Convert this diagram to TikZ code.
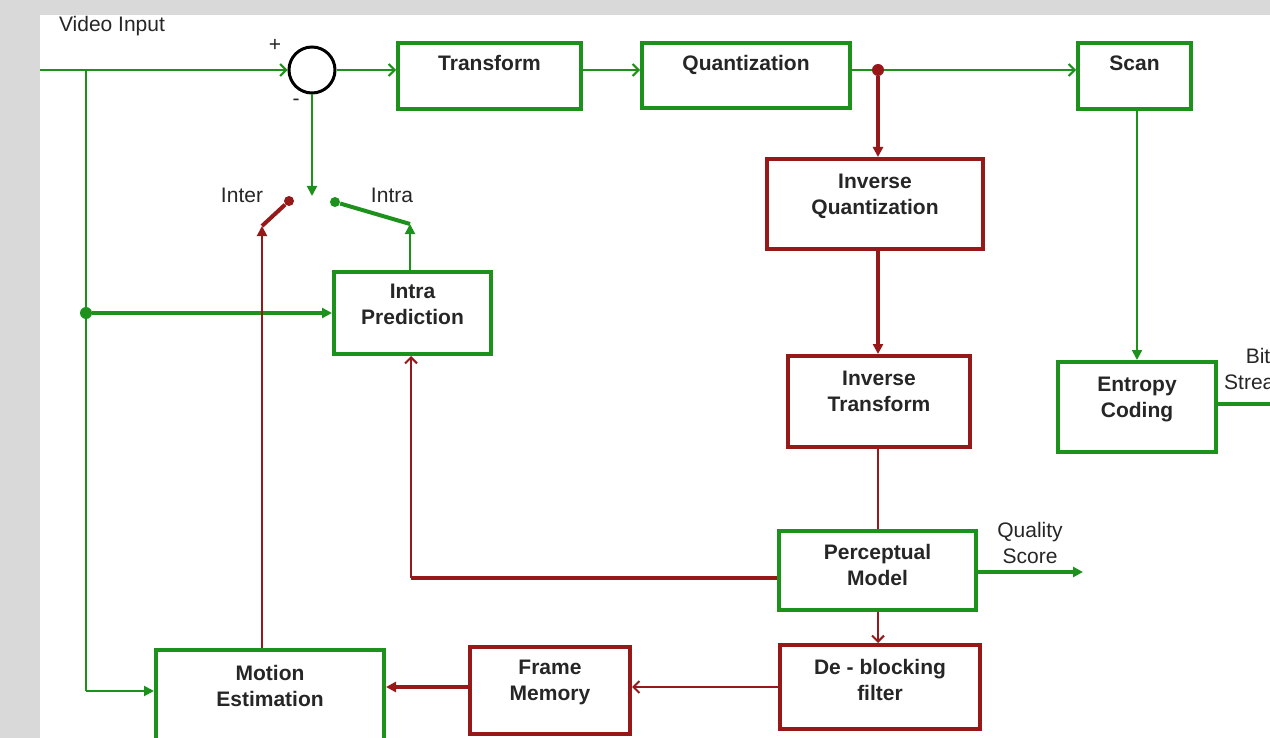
\documentclass[tikz,border=0pt]{standalone}
\usepackage{fontspec}
\setmainfont{Liberation Sans}
\usepackage{tikz}
\usetikzlibrary{arrows.meta}
\definecolor{vgreen}{RGB}{28,146,28}
\definecolor{vred}{RGB}{150,24,24}
\definecolor{framegray}{RGB}{217,217,217}
\definecolor{ink}{RGB}{38,38,38}

\tikzset{
  gbox/.style={rectangle, draw=vgreen, line width=2pt, inner sep=1pt, text=ink,
    align=center, font=\fontsize{10.5}{13}\selectfont\bfseries},
  rbox/.style={gbox, draw=vred},
  oneline/.style={text height=8pt, text depth=#1},
  twoline/.style={text height=22pt, text depth=#1},
  gline/.style={draw=vgreen, line width=1pt},
  gthick/.style={draw=vgreen, line width=2pt},
  rline/.style={draw=vred, line width=1pt},
  rthick/.style={draw=vred, line width=2pt},
  fa/.style={-{Triangle[length=5pt,width=5pt]}},
  oa/.style={-{Straight Barb[length=3pt,width=6pt]}},
  lbl/.style={text=ink, align=center, font=\fontsize{10.5}{13}\selectfont}
}

\begin{document}
\begin{tikzpicture}[x=0.5pt, y=-0.5pt]
      \useasboundingbox (0,0) rectangle (1270,738);
      \fill[framegray] (0,0) rectangle (1270,738);
      \fill[white] (40,15) rectangle (1270,738);

      % Define nodes
      \node[circle, draw=black, line width=1.5pt, minimum size=23pt, inner sep=0pt] (sum) at (312,70) {};
      \node[gbox, oneline=13pt, minimum width=91.5pt, minimum height=33pt] (tf) at (489.5,76) {Transform};
      \node[gbox, oneline=13pt, minimum width=104pt, minimum height=32.5pt] (qz) at (746,75.5) {Quantization};
      \node[gbox, oneline=13pt, minimum width=56.5pt, minimum height=33pt] (sc) at (1134.5,76) {Scan};
      \node[rbox, twoline=11.5pt, minimum width=108pt, minimum height=45pt] (iq) at (875,204) {Inverse\\Quantization};
      \node[rbox, twoline=12pt, minimum width=91pt, minimum height=45.5pt] (it) at (879,401.5) {Inverse\\Transform};
      \node[gbox, twoline=12pt, minimum width=79pt, minimum height=45pt] (ec) at (1137,407) {Entropy\\Coding};
      \node[gbox, twoline=7pt, minimum width=98.5pt, minimum height=39.5pt] (pm) at (877.5,570.5) {Perceptual\\Model};
      \node[rbox, twoline=9pt, minimum width=100pt, minimum height=42pt] (db) at (880,687) {De - blocking\\filter};
      \node[rbox, twoline=12pt, minimum width=80pt, minimum height=43.5pt] (fm) at (550,690.5) {Frame\\Memory};
      \node[gbox, twoline=14pt, minimum width=114pt, minimum height=48pt] (me) at (270,698) {Motion\\Estimation};
      \node[gbox, twoline=10.5pt, minimum width=78.5pt, minimum height=41pt] (ip) at (412.5,313) {Intra\\Prediction};

      \node[circle, fill=vred, minimum size=6pt, inner sep=0pt] (qd) at (878,70) {};
      \node[circle, fill=vgreen, minimum size=6pt, inner sep=0pt] (bj) at (86,313) {};
      \node[circle, fill=vred, minimum size=5pt, inner sep=0pt] (ind) at (289,201) {};
      \node[circle, fill=vgreen, minimum size=5pt, inner sep=0pt] (trd) at (335,202) {};

      \coordinate (vin) at (40,70);
      \coordinate (br) at (86,70);
      \coordinate (ml) at (86,691);
      \coordinate (pc) at (411,578);
      \coordinate (qs) at (1083,572);
      \coordinate (bs) at (1275,404);
      \coordinate (sw) at (312,196);
      \coordinate (ia) at (262,226);
      \coordinate (ta) at (410,224);

      % Labels
      \node[lbl] (vi) at (112,26) {Video Input};
      \node[lbl] (pl) at (275,45) {+};
      \node[lbl] (mi) at (296,102) {-};
      \node[lbl] (inter) at (242,195) {Inter};
      \node[lbl] (intra) at (392,195) {Intra};
      \node[lbl] (qsl) at (1030,543) {Quality\\Score};
      \node[lbl] (bsl) at (1258,369) {Bit\\Stream};

      % Draw edges
      \draw[gline, oa] (vin) -- (sum.west);
      \draw[gline] (br) -- (ml);
      \draw[gline, fa] (ml) -- (ml -| me.west);
      \draw[gthick, fa] (bj) -- (ip.west);
      \draw[gline, oa] (sum.east) -- (sum.east -| tf.west);
      \draw[gline, oa] (sum.east -| tf.east) -- (sum.east -| qz.west);
      \draw[gline] (qd -| qz.east) -- (qd);
      \draw[gline, oa] (qd) -- (qd -| sc.west);
      \draw[gline, fa] (ec.north |- sc.south) -- (ec.north);
      \draw[gthick] (ec.east |- bs) -- (bs);
      \draw[rthick, fa] (qd) -- (qd |- iq.north);
      \draw[rthick, fa] (qd |- iq.south) -- (qd |- it.north);
      \draw[rline] (qd |- it.south) -- (qd |- pm.north);
      \draw[rline, oa] (qd |- pm.south) -- (qd |- db.north);
      \draw[rline, oa] (db.west) -- (db.west -| fm.east);
      \draw[rline, line width=1.6pt, fa] (db.west -| fm.west) -- (db.west -| me.east);
      \draw[rthick] (pm.west |- pc) -- (pc);
      \draw[rline, oa] (pc) -- (pc |- ip.south);
      \draw[gthick, fa] (pm.east |- qs) -- (qs);
      \draw[gline, fa] (sum.south) -- (sw);
      \draw[rline, fa] (me.north -| ia) -- (ia);
      \draw[rthick] (ia) -- (ind);
      \draw[gline, fa] (ip.north -| ta) -- (ta);
      \draw[gthick] (ta) -- (trd);
\end{tikzpicture}
\end{document}
